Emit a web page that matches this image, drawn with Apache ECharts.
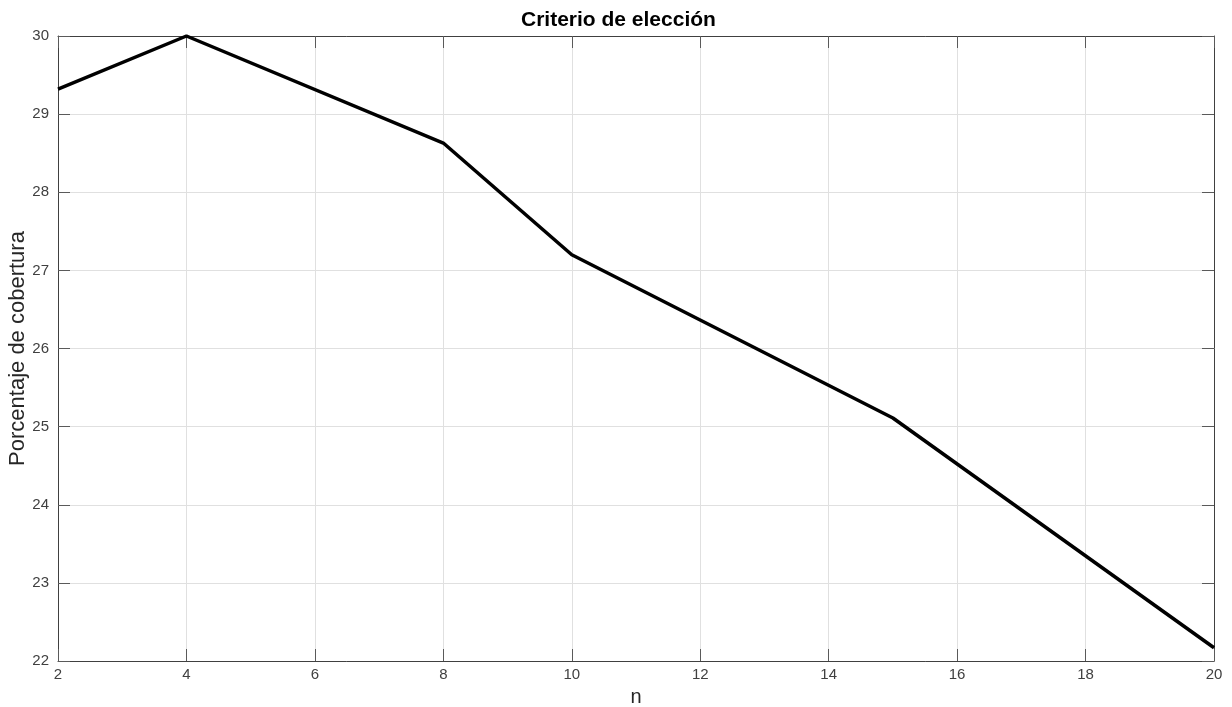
<!DOCTYPE html>
<html><head><meta charset="utf-8">
<script src="https://cdn.jsdelivr.net/npm/echarts@6/dist/echarts.min.js"></script>
<style>html,body{margin:0;padding:0;background:#fff}#c{width:1232px;height:707px}</style>
</head><body><div id="c"></div>
<script>
const xValues = [2, 4, 8, 10, 15, 20];
const yValues = [29.32, 30.0, 28.63, 27.2, 25.11, 22.17];
const titleText = 'Criterio de elección';
const xName = 'n';
const yName = 'Porcentaje de cobertura';

const FONT = '"Liberation Sans", Arial, sans-serif';
const chart = echarts.init(document.getElementById('c'), null, {renderer: 'canvas'});
const axisCommon = {
  axisLine: {show: true, onZero: false, lineStyle: {color: '#404040', width: 1}},
  axisTick: {show: true, inside: true, length: 12, lineStyle: {color: '#5a5a5a', width: 1}},
  splitLine: {show: false},
};
chart.setOption({
  animation: false,
  backgroundColor: '#ffffff',
  title: {text: titleText, left: 516, top: 5,
    textStyle: {fontFamily: FONT, fontSize: 21, fontWeight: 'bold', color: '#000'}},
  grid: {left: 58, right: 18, top: 36, bottom: 46, containLabel: false, outerBoundsMode: 'none'},
  xAxis: [
    Object.assign({}, axisCommon, {type: 'value', min: 2, max: 20, interval: 2, position: 'bottom',
      name: xName, nameLocation: 'middle', nameGap: 26, nameMoveOverlap: false,
      nameTextStyle: {fontFamily: FONT, fontSize: 20, color: '#262626'},
      axisLabel: {fontFamily: FONT, fontSize: 15, color: '#404040', margin: 6},
      splitLine: {show: true, lineStyle: {color: '#e0e0e0', width: 1}}}),
    Object.assign({}, axisCommon, {type: 'value', min: 2, max: 20, interval: 2, position: 'top',
      axisLabel: {show: false}})
  ],
  yAxis: [
    Object.assign({}, axisCommon, {type: 'value', min: 22, max: 30, interval: 1, position: 'left',
      name: yName, nameLocation: 'middle', nameGap: 29, nameRotate: 90, nameMoveOverlap: false,
      nameTextStyle: {fontFamily: FONT, fontSize: 22, color: '#262626'},
      axisLabel: {fontFamily: FONT, fontSize: 15, color: '#404040', margin: 9},
      splitLine: {show: true, lineStyle: {color: '#e0e0e0', width: 1}}}),
    Object.assign({}, axisCommon, {type: 'value', min: 22, max: 30, interval: 1, position: 'right',
      axisLabel: {show: false}})
  ],
  series: [{
    type: 'line',
    data: xValues.map((x, i) => [x, yValues[i]]),
    showSymbol: false,
    lineStyle: {color: '#000', width: 3.5},
    clip: false
  }]
});
</script></body></html>
